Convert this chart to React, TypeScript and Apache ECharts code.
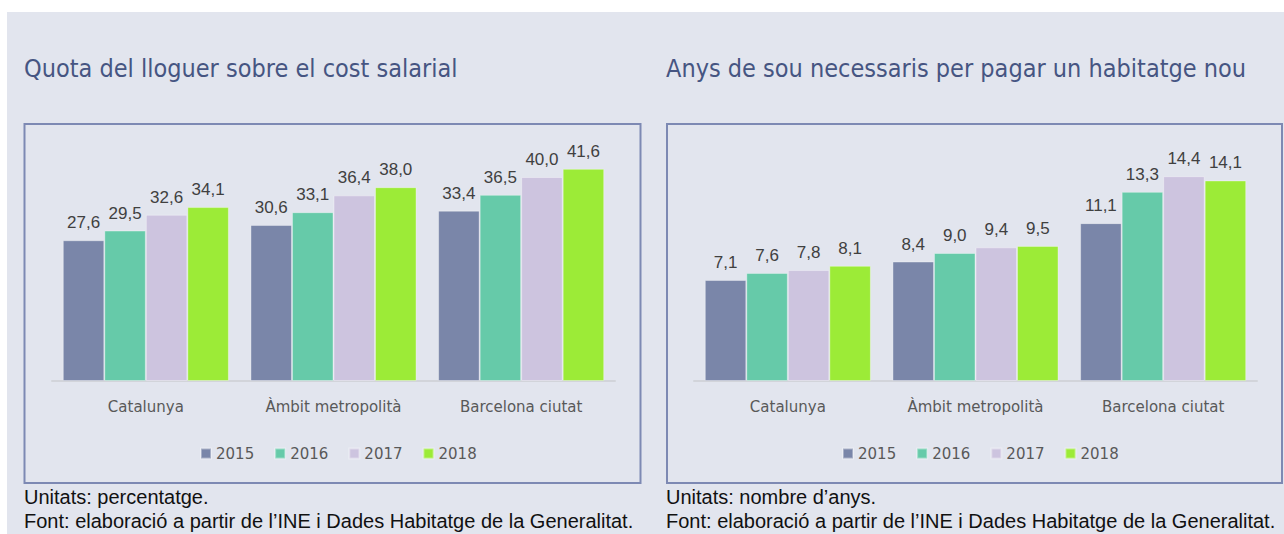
import React, { useEffect, useRef } from "react";
import * as echarts from "echarts";

const categories = ["Catalunya", "Àmbit metropolità", "Barcelona ciutat"];
const years = ["2015", "2016", "2017", "2018"];
const colors = ["#7a86a9", "#66caa9", "#cdc4df", "#9ceb37"];

// Quota del lloguer sobre el cost salarial (%)
const rentShare2015 = [27.6, 30.6, 33.4];
const rentShare2016 = [29.5, 33.1, 36.5];
const rentShare2017 = [32.6, 36.4, 40.0];
const rentShare2018 = [34.1, 38.0, 41.6];

// Anys de sou necessaris per pagar un habitatge nou
const years2015 = [7.1, 8.4, 11.1];
const years2016 = [7.6, 9.0, 13.3];
const years2017 = [7.8, 9.4, 14.4];
const years2018 = [8.1, 9.5, 14.1];

const leftTitle = "Quota del lloguer sobre el cost salarial";
const rightTitle = "Anys de sou necessaris per pagar un habitatge nou";
const leftUnits = "Unitats: percentatge.";
const rightUnits = "Unitats: nombre d’anys.";
const sourceText = "Font: elaboració a partir de l’INE i Dades Habitatge de la Generalitat.";

const BG = "#e2e5ee";
const BORDER = "#7d89b3";
const TITLE_FONT = '"Liberation Sans Narrow", "Arial Narrow", "DejaVu Sans Condensed", sans-serif';
const BODY_FONT = '"Liberation Sans", Arial, sans-serif';
const AXIS_FONT = '"DejaVu Sans", sans-serif';

const fmt = (v: number) => v.toFixed(1).replace(".", ",");

export default function App() {
  const ref = useRef<HTMLDivElement>(null);
  useEffect(() => {
    if (!ref.current) return;
    const chart = echarts.init(ref.current, undefined, { renderer: "svg" });
    const leftData = [rentShare2015, rentShare2016, rentShare2017, rentShare2018];
    const rightData = [years2015, years2016, years2017, years2018];

    const mkSeries = (data: number[][], idx: number) =>
      data.map((d, i) => ({
        name: years[i],
        type: "bar",
        xAxisIndex: idx,
        yAxisIndex: idx,
        data: d,
        barGap: "0%",
        barCategoryGap: "11.5%",
        itemStyle: { color: colors[i], borderColor: "rgba(255,255,255,0.35)", borderWidth: 1 },
        label: {
          show: true,
          position: "top",
          distance: 9,
          color: "#404040",
          fontSize: 17,
          fontFamily: BODY_FONT,
          formatter: (p: any) => fmt(p.value),
        },
      }));

    const xAxisCommon = {
      type: "category",
      data: categories,
      axisLine: { lineStyle: { color: "#d2d4da", width: 2 } },
      axisTick: { show: false },
      axisLabel: { color: "#595959", fontSize: 15, fontFamily: AXIS_FONT, margin: 18 },
    };

    const legendCommon = {
      data: years,
      itemWidth: 10,
      itemHeight: 10,
      itemGap: 20,
      icon: "rect",
      textStyle: { color: "#595959", fontSize: 15, fontFamily: AXIS_FONT },
      top: 441,
    };

    chart.setOption({
      animation: false,
      backgroundColor: "#ffffff",
      grid: [
        { left: 52, top: 126, width: 563, height: 255 },
        { left: 694, top: 125, width: 563, height: 256 },
      ],
      xAxis: [
        { ...xAxisCommon, gridIndex: 0 },
        { ...xAxisCommon, gridIndex: 1 },
      ],
      yAxis: [
        { type: "value", gridIndex: 0, min: 0, max: 50, show: false },
        { type: "value", gridIndex: 1, min: 0, max: 18, show: false },
      ],
      legend: [
        { ...legendCommon, left: 195 },
        { ...legendCommon, left: 837 },
      ],
      graphic: [
        { type: "rect", z: -10, shape: { x: 7, y: 12, width: 1284, height: 530 }, style: { fill: BG } },
        {
          type: "rect",
          z: -5,
          shape: { x: 24.5, y: 124, width: 616, height: 359 },
          style: { fill: "none", stroke: BORDER, lineWidth: 2 },
        },
        {
          type: "rect",
          z: -5,
          shape: { x: 667, y: 124, width: 615, height: 359 },
          style: { fill: "none", stroke: BORDER, lineWidth: 2 },
        },
        {
          type: "text",
          x: 24,
          y: 68,
          style: { text: leftTitle, fill: "#465582", font: `25px ${TITLE_FONT}`, textVerticalAlign: "middle" },
        },
        {
          type: "text",
          x: 666,
          y: 68,
          style: { text: rightTitle, fill: "#465582", font: `25px ${TITLE_FONT}`, textVerticalAlign: "middle" },
        },
        {
          type: "text",
          x: 24,
          y: 497,
          style: { text: leftUnits, fill: "#111111", font: `20px ${BODY_FONT}`, textVerticalAlign: "middle" },
        },
        {
          type: "text",
          x: 24,
          y: 521,
          style: { text: sourceText, fill: "#111111", font: `20px ${BODY_FONT}`, textVerticalAlign: "middle" },
        },
        {
          type: "text",
          x: 666,
          y: 497,
          style: { text: rightUnits, fill: "#111111", font: `20px ${BODY_FONT}`, textVerticalAlign: "middle" },
        },
        {
          type: "text",
          x: 666,
          y: 521,
          style: { text: sourceText, fill: "#111111", font: `20px ${BODY_FONT}`, textVerticalAlign: "middle" },
        },
      ],
      series: [...mkSeries(leftData, 0), ...mkSeries(rightData, 1)],
    });
    return () => chart.dispose();
  }, []);

  return (
    <div
      ref={ref}
      style={{ position: "fixed", left: 0, top: 0, width: 1284, height: 534 }}
    />
  );
}
